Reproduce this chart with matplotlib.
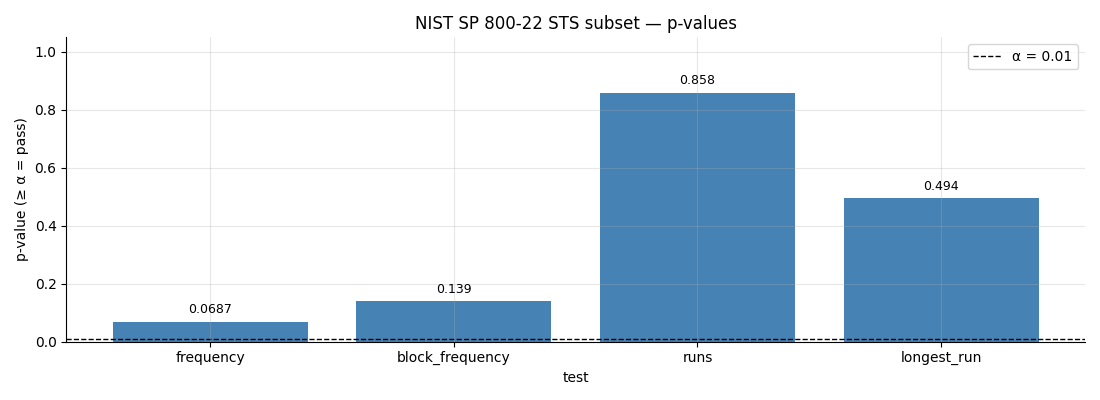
import matplotlib
matplotlib.use("Agg")
import matplotlib.pyplot as plt

tests = ["frequency", "block_frequency", "runs", "longest_run"]
p_values = [0.0687, 0.139, 0.858, 0.494]
value_labels = ["0.0687", "0.139", "0.858", "0.494"]
alpha_level = 0.01

fig, ax = plt.subplots(figsize=(11, 4), dpi=100)
bars = ax.bar(tests, p_values, color="steelblue", width=0.8)
ax.axhline(alpha_level, color="black", linestyle="--", linewidth=1, label=f"α = {alpha_level}")

for bar, txt in zip(bars, value_labels):
    ax.text(bar.get_x() + bar.get_width() / 2, bar.get_height() + 0.02, txt,
            ha="center", va="bottom", fontsize=9)

ax.set_ylim(0, 1.05)
ax.set_xlabel("test")
ax.set_ylabel("p-value (≥ α = pass)")
ax.set_title("NIST SP 800-22 STS subset — p-values")
ax.grid(True, alpha=0.3)
ax.set_axisbelow(False)
ax.spines["top"].set_visible(False)
ax.spines["right"].set_visible(False)
ax.legend(loc="upper right")

fig.tight_layout()
fig.savefig("out.png", dpi=100)
